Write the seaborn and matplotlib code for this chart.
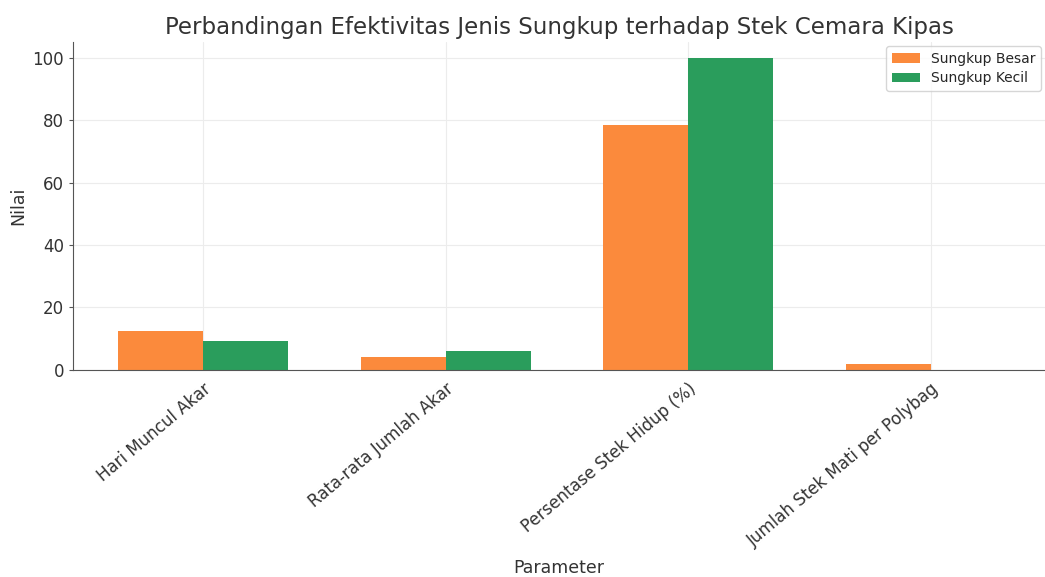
import pandas as pd
import numpy as np
import matplotlib
matplotlib.use("Agg")
import matplotlib.pyplot as plt
import seaborn as sns

# data
parameter = ["Hari Muncul Akar", "Rata-rata Jumlah Akar",
             "Persentase Stek Hidup (%)", "Jumlah Stek Mati per Polybag"]
sungkup_besar = [12.3, 4.2, 78.6, 2.0]
sungkup_kecil = [9.3, 6.1, 100.0, 0.0]
series = ["Sungkup Besar", "Sungkup Kecil"]
colors = ["#FB8A3C", "#2A9D5C"]

df = pd.DataFrame({
    "Parameter": parameter * 2,
    "Nilai": sungkup_besar + sungkup_kecil,
    "Jenis": [series[0]] * 4 + [series[1]] * 4,
})

sns.set_style("whitegrid", {"grid.color": "#ececec", "axes.edgecolor": "#555555"})
plt.rcParams["font.family"] = ["DejaVu Sans"]

fig, ax = plt.subplots(figsize=(10.45, 5.77), dpi=100)
sns.barplot(data=df, x="Parameter", y="Nilai", hue="Jenis",
            palette=colors, width=0.7, saturation=1, linewidth=0, ax=ax)

ax.set_xlim(-0.535, 3.47)
ax.set_ylim(0, 105)
ax.set_yticks([0, 20, 40, 60, 80, 100])
ax.xaxis.grid(True)
ax.yaxis.grid(True)
ax.set_axisbelow(True)
ax.set_title("Perbandingan Efektivitas Jenis Sungkup terhadap Stek Cemara Kipas",
             fontsize=16.5, color="#333333", pad=6)
ax.set_xlabel("Parameter", fontsize=12.5, color="#333333", va="center")
ax.xaxis.set_label_coords(0.5, -0.604)
ax.set_ylabel("Nilai", fontsize=12.5, color="#333333")
plt.setp(ax.get_xticklabels(), rotation=40, ha="right", rotation_mode="anchor",
         fontsize=12, color="#333333")
plt.setp(ax.get_yticklabels(), fontsize=12, color="#333333")
ax.tick_params(axis="y", length=3, color="#555555", left=True)

for s in ["top", "right"]:
    ax.spines[s].set_visible(False)
for s in ["left", "bottom"]:
    ax.spines[s].set_color("#555555")

ax.legend(title=None, loc="upper right", fontsize=10, labelspacing=0.4,
          frameon=True, borderaxespad=0.3)

fig.subplots_adjust(left=0.07, right=1.0, top=0.927, bottom=0.359)
fig.savefig("out.png", dpi=100)
